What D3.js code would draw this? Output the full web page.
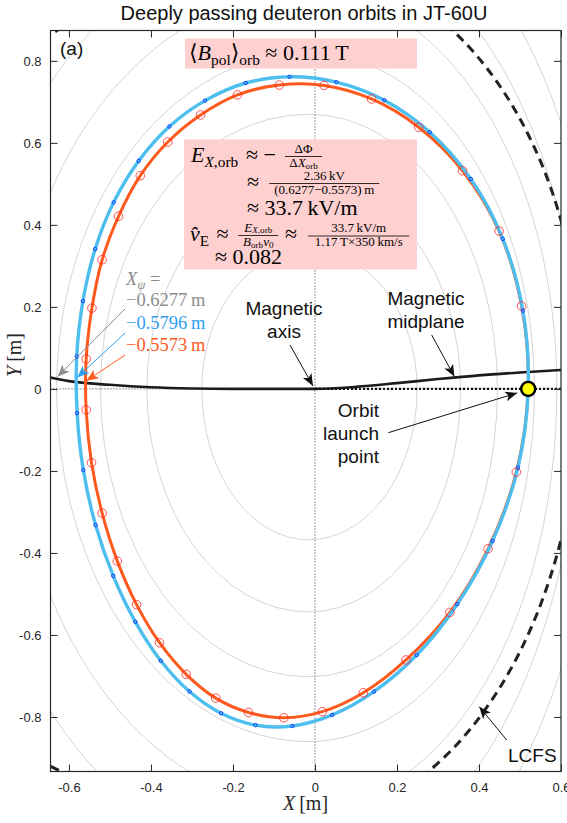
<!DOCTYPE html>
<html>
<meta charset="utf-8">
<style>
  body { margin: 0; background: #fff; }
  text { font-family: "Liberation Sans", Arial, sans-serif; }
  .tex { font-family: "Liberation Serif", "DejaVu Serif", serif; }
</style>
<body>
<div id="viz"></div>
<script src="https://d3js.org/d3.v7.min.js"></script>
<script>
// ---- data ----
var xTicks = [-0.6, -0.4, -0.2, 0, 0.2, 0.4, 0.6];
var yTicks = [-0.8, -0.6, -0.4, -0.2, 0, 0.2, 0.4, 0.6, 0.8];

// orbit points (the markers), counter-clockwise from the launch point
var orangeX = [0.520, 0.504, 0.449, 0.360, 0.253, 0.138, 0.022, -0.087, -0.189, -0.279, -0.359, -0.426, -0.479, -0.519, -0.544, -0.558, -0.558, -0.545, -0.519, -0.482, -0.435, -0.379, -0.314, -0.242, -0.162, -0.076, 0.018, 0.118, 0.222, 0.329, 0.422, 0.491];
var orangeY = [0.000, 0.202, 0.385, 0.532, 0.638, 0.707, 0.740, 0.741, 0.717, 0.668, 0.602, 0.520, 0.421, 0.315, 0.197, 0.073, -0.051, -0.180, -0.303, -0.420, -0.526, -0.619, -0.696, -0.754, -0.789, -0.802, -0.787, -0.741, -0.661, -0.545, -0.390, -0.203];
var blueX = [0.520, 0.507, 0.458, 0.380, 0.280, 0.169, 0.052, -0.062, -0.169, -0.268, -0.355, -0.430, -0.491, -0.536, -0.566, -0.581, -0.580, -0.565, -0.535, -0.492, -0.438, -0.376, -0.306, -0.229, -0.145, -0.055, 0.042, 0.144, 0.248, 0.347, 0.433, 0.495];
var blueY = [0.000, 0.191, 0.366, 0.512, 0.626, 0.704, 0.748, 0.761, 0.746, 0.703, 0.640, 0.556, 0.455, 0.341, 0.214, 0.079, -0.059, -0.198, -0.332, -0.456, -0.568, -0.663, -0.738, -0.791, -0.820, -0.822, -0.795, -0.738, -0.649, -0.525, -0.371, -0.192];

// magnetic midplane
var midX = [-0.645, -0.6, -0.5, -0.4, -0.3, -0.2, -0.1, 0, 0.1, 0.2, 0.3, 0.4, 0.5, 0.6];
var midY = [0.028, 0.019, 0.010, 0.004, 0.001, 0, 0, 0, 0.005, 0.014, 0.024, 0.033, 0.040, 0.046];

// flux surfaces: extent left / right of axis, above / below it
var fluxCx = -0.015;
var fluxL = [0.276, 0.41, 0.523, 0.63, 0.74, 0.86, 0.98];
var fluxR = [0.249, 0.355, 0.445, 0.535, 0.59, 0.645, 0.70];
var fluxT = [0.34, 0.51, 0.67, 0.82, 0.97, 1.12, 1.27];
var fluxB = [0.368, 0.544, 0.702, 0.86, 1.02, 1.18, 1.34];

// last closed flux surface (centre, right, upper-left, lower-left, top, bottom)
var lcfsC = [-0.05, 0.04];
var lcfsExt = [0.70, 1.05, 1.22, 1.0, 1.1];

var launch = [0.52, 0];
var xPsi = [-0.6277, -0.5796, -0.5573];
var xPsiTipY = [0.030, 0.028, 0.020];
var xPsiText = ["\u22120.6277\u2009m", "\u22120.5796\u2009m", "\u22120.5573\u2009m"];
var xPsiColor = ["#8c8c8c", "#2f9ff0", "#ff5a1e"];

// ---- layout ----
var W = 567, H = 823;
var m = {l: 50.5, r: 561, t: 30.5, b: 771.5};
var x = d3.scaleLinear().domain([-0.645, 0.6]).range([m.l, m.r]);
var y = d3.scaleLinear().domain([-0.933, 0.874]).range([m.b, m.t]);

var svg = d3.select("#viz").append("svg").attr("width", W).attr("height", H);
var defs = svg.append("defs");
defs.append("clipPath").attr("id", "clip").append("rect")
  .attr("x", m.l).attr("y", m.t).attr("width", m.r - m.l).attr("height", m.b - m.t);

function head(id, color) {
  defs.append("marker").attr("id", id).attr("viewBox", "0 0 12 10")
    .attr("refX", 12).attr("refY", 5).attr("markerWidth", 13).attr("markerHeight", 10)
    .attr("markerUnits", "userSpaceOnUse").attr("orient", "auto")
    .append("path").attr("d", "M0,0 L12,5 L0,10 L3,5 Z").attr("fill", color);
}
head("hk", "#111");
xPsiColor.forEach(function(c, i) { head("h" + i, c); });

var plot = svg.append("g").attr("clip-path", "url(#clip)");

// quarter-ellipse closed path through right, top, left, bottom points
function dshape(cx, cy, aR, aLu, aLl, bT, bB) {
  var X0 = x(cx), Y0 = y(cy);
  var rR = x(cx + aR) - X0, rLu = X0 - x(cx - aLu), rLl = X0 - x(cx - aLl);
  var rT = Y0 - y(cy + bT), rB = y(cy - bB) - Y0;
  return "M" + (X0 + rR) + "," + Y0 +
    "A" + rR + "," + rT + " 0 0 0 " + X0 + "," + (Y0 - rT) +
    "A" + rLu + "," + rT + " 0 0 0 " + (X0 - rLu) + "," + Y0 +
    "M" + (X0 - rLl) + "," + Y0 +
    "A" + rLl + "," + rB + " 0 0 0 " + X0 + "," + (Y0 + rB) +
    "A" + rR + "," + rB + " 0 0 0 " + (X0 + rR) + "," + Y0;
}

fluxL.forEach(function(l, i) {
  plot.append("path").attr("d", dshape(fluxCx, 0, fluxR[i] - fluxCx, l + fluxCx, l + fluxCx, fluxT[i], fluxB[i]))
    .attr("fill", "none").attr("stroke", "#cfcfcf").attr("stroke-width", 0.9);
});

plot.append("path")
  .attr("d", dshape(lcfsC[0], lcfsC[1], lcfsExt[0], lcfsExt[1], lcfsExt[2], lcfsExt[3], lcfsExt[4]))
  .attr("fill", "none").attr("stroke", "#222").attr("stroke-width", 3).attr("stroke-dasharray", "9,6");

// dotted reference lines
plot.append("line").attr("x1", x(0)).attr("x2", x(0)).attr("y1", m.t).attr("y2", m.b)
  .attr("stroke", "#333").attr("stroke-width", 1).attr("stroke-dasharray", "1,2");
plot.append("line").attr("x1", m.l).attr("x2", m.r).attr("y1", y(0)).attr("y2", y(0))
  .attr("stroke", "#333").attr("stroke-width", 1).attr("stroke-dasharray", "1,2");

var mid = d3.zip(midX, midY);
plot.append("path").datum(mid)
  .attr("d", d3.line().x(function(d) { return x(d[0]); }).y(function(d) { return y(d[1]); }).curve(d3.curveMonotoneX))
  .attr("fill", "none").attr("stroke", "#1c1c1c").attr("stroke-width", 2.6);
plot.append("line").attr("x1", x(0)).attr("x2", m.r).attr("y1", y(0)).attr("y2", y(0))
  .attr("stroke", "#111").attr("stroke-width", 2.2).attr("stroke-dasharray", "2,2");

var orbit = d3.line().x(function(d) { return x(d[0]); }).y(function(d) { return y(d[1]); })
  .curve(d3.curveCatmullRomClosed.alpha(0.5));
var orange = d3.zip(orangeX, orangeY), blue = d3.zip(blueX, blueY);
plot.append("path").datum(orange).attr("d", orbit)
  .attr("fill", "none").attr("stroke", "#ff5a1e").attr("stroke-width", 3);
plot.append("path").datum(blue).attr("d", orbit)
  .attr("fill", "none").attr("stroke", "#4dbeee").attr("stroke-width", 3.4);

plot.selectAll(".mo").data(orange.slice(1)).enter().append("circle")
  .attr("cx", function(d) { return x(d[0]); }).attr("cy", function(d) { return y(d[1]); })
  .attr("r", 4.3).attr("fill", "none").attr("stroke", "#ff2a2a").attr("stroke-width", 0.8);
plot.selectAll(".mb").data(blue.slice(1)).enter().append("circle")
  .attr("cx", function(d) { return x(d[0]); }).attr("cy", function(d) { return y(d[1]); })
  .attr("r", 1.7).attr("fill", "none").attr("stroke", "#0b3cff").attr("stroke-width", 1);

plot.append("circle").attr("cx", x(launch[0])).attr("cy", y(launch[1])).attr("r", 7)
  .attr("fill", "#ffff00").attr("stroke", "#000").attr("stroke-width", 2.4);

// ---- axes ----
var fmt = function(d) { return String(+d.toFixed(1)); };
var ax = svg.append("g").attr("color", "#262626");
ax.append("g").attr("transform", "translate(0," + m.b + ")")
  .call(d3.axisBottom(x).tickValues(xTicks).tickFormat(fmt).tickSizeInner(-7).tickSizeOuter(0).tickPadding(11));
ax.append("g").attr("transform", "translate(" + m.l + ",0)")
  .call(d3.axisLeft(y).tickValues(yTicks).tickFormat(fmt).tickSizeInner(-7).tickSizeOuter(0).tickPadding(9));
ax.append("g").attr("transform", "translate(0," + m.t + ")")
  .call(d3.axisTop(x).tickValues(xTicks).tickFormat("").tickSizeInner(-7).tickSizeOuter(0));
ax.append("g").attr("transform", "translate(" + m.r + ",0)")
  .call(d3.axisRight(y).tickValues(yTicks).tickFormat("").tickSizeInner(-7).tickSizeOuter(0));
ax.selectAll(".domain").remove();
ax.selectAll("text").attr("font-size", 13).attr("font-family", "Liberation Sans, Arial, sans-serif").attr("fill", "#262626");
ax.append("rect").attr("x", m.l).attr("y", m.t).attr("width", m.r - m.l).attr("height", m.b - m.t)
  .attr("fill", "none").attr("stroke", "#262626").attr("stroke-width", 1.2);

// ---- text helpers ----
function tex(g, x0, y0, size, parts, anchor, color, subK) {
  var t = g.append("text").attr("class", "tex").attr("x", x0).attr("y", y0)
    .attr("font-size", size).attr("text-anchor", anchor || "start").attr("fill", color || "#000");
  var shift = 0, k = subK === undefined ? 0.24 : subK;
  parts.forEach(function(p) {
    var f = p[1] || "", sub = f.indexOf("s") >= 0, want = sub ? size * k : 0;
    t.append("tspan").text(p[0]).attr("dy", want - shift)
      .attr("font-size", sub ? size * 0.7 : size)
      .attr("font-style", f.indexOf("i") >= 0 ? "italic" : null);
    shift = want;
  });
  return t;
}
function frac(g, cx, yb, w, size, num, den) {
  g.append("line").attr("x1", cx - w / 2).attr("x2", cx + w / 2).attr("y1", yb).attr("y2", yb)
    .attr("stroke", "#000").attr("stroke-width", 0.8);
  tex(g, cx, yb - size * 0.3, size, num, "middle", "#000", 0.12);
  tex(g, cx, yb + size * 0.8, size, den, "middle", "#000", 0.18);
}

// title and axis labels
svg.append("text").attr("x", 304).attr("y", 19.5).attr("text-anchor", "middle")
  .attr("font-size", 20).attr("fill", "#111").text("Deeply passing deuteron orbits in JT-60U");
tex(svg, 305.5, 810, 20, [["X", "i"], ["\u2009[m]"]], "middle", "#262626");
tex(svg.append("g").attr("transform", "translate(21,355) rotate(-90)"), 0, 0, 20, [["Y", "i"], ["\u2009[m]"]], "middle", "#262626");
svg.append("text").attr("x", 60).attr("y", 55).attr("font-size", 19).attr("fill", "#111").text("(a)");

// pink boxes
var note = svg.append("g");
note.append("rect").attr("x", 185).attr("y", 38.5).attr("width", 232).attr("height", 30).attr("fill", "#ffd0d0");
tex(note, 189, 60, 22, [["\u27e8"], ["B", "i"], ["pol", "s"], ["\u27e9"], ["orb", "s"], [" \u2248 0.111\u2009T"]]);

note.append("rect").attr("x", 184).attr("y", 139.5).attr("width", 233).attr("height", 130).attr("fill", "#ffd0d0");
tex(note, 191, 162, 22, [["E", "i"], ["X", "is"], [",orb", "s"]]);
tex(note, 246, 162, 22, [["\u2248 \u2212"]]);
frac(note, 303.5, 156.5, 37, 13, [["\u0394\u03a6"]], [["\u0394"], ["X", "i"], ["orb", "s"]]);
tex(note, 247, 189, 22, [["\u2248"]]);
frac(note, 324.3, 183.5, 110, 13, [["2.36\u2009kV"]], [["(0.6277\u22120.5573)\u2009m"]]);
tex(note, 247, 215, 22, [["\u2248 33.7\u2009kV/m"]]);
tex(note, 190, 241, 22, [["v\u0302", "i"], ["E", "s"]]);
tex(note, 216.5, 241, 22, [["\u2248"]]);
frac(note, 258.3, 235.5, 40, 13, [["E", "i"], ["X", "is"], [",orb", "s"]], [["B", "i"], ["orb", "s"], ["v", "i"], ["0", "s"]]);
tex(note, 285, 241, 22, [["\u2248"]]);
frac(note, 358.7, 236, 101, 13, [["33.7\u2009kV/m"]], [["1.17\u2009T\u00d7350\u2009km/s"]]);
tex(note, 215, 264, 22, [["\u2248 0.082"]]);

// X_psi labels with arrows to the midplane
var ann = svg.append("g");
tex(ann, 126, 285, 18.5, [["X", "i"], ["\u03c8", "is"], [" ="]], "start", xPsiColor[0]);
var labY = [305.5, 329, 351], fromY = [309, 333, 355];
xPsi.forEach(function(v, i) {
  tex(ann, 126, labY[i], 18.5, [[xPsiText[i]]], "start", xPsiColor[i]);
  ann.append("line").attr("x1", 125).attr("y1", fromY[i]).attr("x2", x(v)).attr("y2", y(xPsiTipY[i]))
    .attr("stroke", xPsiColor[i]).attr("stroke-width", 1).attr("marker-end", "url(#h" + i + ")");
});

// black annotations
function label(lines, x0, y0, anchor) {
  lines.forEach(function(s, i) {
    ann.append("text").attr("x", x0).attr("y", y0 + i * 23.4).attr("text-anchor", anchor)
      .attr("font-size", 19).attr("fill", "#111").text(s);
  });
}
function arrow(x1, y1, x2, y2) {
  ann.append("line").attr("x1", x1).attr("y1", y1).attr("x2", x2).attr("y2", y2)
    .attr("stroke", "#111").attr("stroke-width", 1).attr("marker-end", "url(#hk)");
}
label(["Magnetic", "axis"], 284, 315, "middle");
arrow(290, 345, x(0) - 2, y(0) - 3);
label(["Magnetic", "midplane"], 426, 305, "middle");
arrow(431.7, 335, x(0.34), y(0.03));
label(["Orbit", "launch", "point"], 379, 416.5, "end");
arrow(388.3, 432.7, x(launch[0]) - 11, y(launch[1]) + 4);
label(["LCFS"], 508, 762, "start");
arrow(506.7, 740, 479.3, 706.7);
</script>
</body>
</html>
